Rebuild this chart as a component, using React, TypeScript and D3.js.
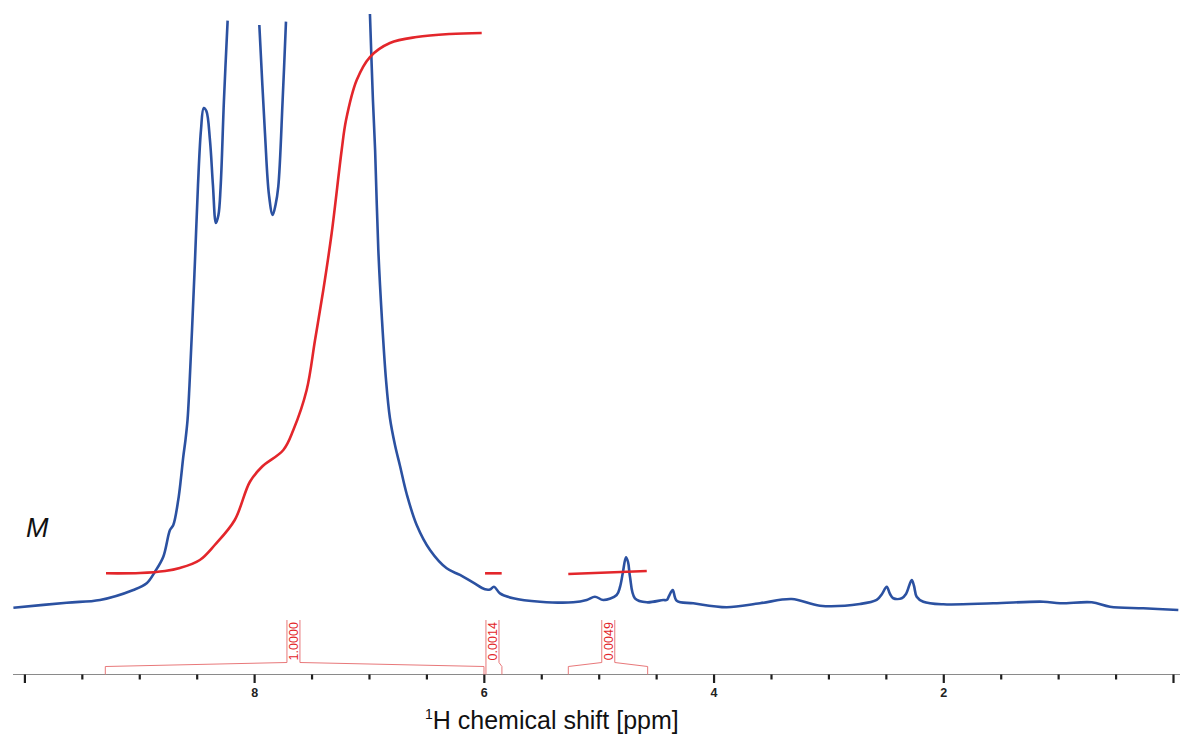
import React from "react";
import * as d3 from "d3";

// ---- data ----
// 1H spectrum: [ppm, relative intensity]; null = off scale (clipped at top)
const spectrum: [number, number | null][] = [
  [10.1, -0.46], [9.636, 0.39], [9.346, 0.85], [9.056, 2.54], [8.94, 3.68],
  [8.868, 5.64], [8.795, 8.19], [8.737, 12.71], [8.708, 13.56], [8.665, 17.8],
  [8.641, 21.53], [8.621, 25.14], [8.602, 27.97], [8.584, 31.36], [8.567, 37.29],
  [8.545, 46.61], [8.519, 58.47], [8.493, 71.19], [8.467, 80.51], [8.443, 84.24],
  [8.42, 83.73], [8.389, 78.82], [8.363, 71.19],
  [8.337, 64.75], [8.315, 66.1], [8.296, 70.85], [8.267, 85.6], [8.235, 99.04],
  [8.1, null],
  [7.959, 98.31], [7.91, 80.0], [7.875, 69.5], [7.843, 66.1], [7.818, 67.8],
  [7.794, 70.9], [7.756, 85.6], [7.727, 98.87],
  [7.3, null],
  [6.996, 100.17], [6.97, 85.6], [6.951, 77.12], [6.923, 60.17], [6.891, 48.31],
  [6.856, 38.14], [6.822, 31.69], [6.778, 27.12], [6.734, 23.56], [6.676, 18.81],
  [6.589, 13.56], [6.473, 9.32], [6.328, 6.22], [6.212, 5.09], [6.096, 3.78], [5.994, 2.66],
  [5.951, 2.63], [5.916, 3.1], [5.864, 1.98], [5.748, 1.14], [5.515, 0.56],
  [5.226, 0.46], [5.109, 0.85], [5.037, 1.41], [4.964, 0.85], [4.848, 1.7],
  [4.819, 3.05], [4.795, 5.37], [4.767, 8.09], [4.749, 7.29], [4.732, 4.8],
  [4.689, 1.14], [4.586, 0.46], [4.442, 0.85], [4.412, 0.85], [4.392, 1.53],
  [4.36, 2.54], [4.325, 0.73], [4.181, 0.29], [3.89, -0.39], [3.6, 0.29],
  [3.324, 1.02], [3.078, -0.12], [2.73, 0.17], [2.584, 0.85], [2.538, 1.86],
  [2.497, 3.1], [2.468, 1.86], [2.44, 1.14], [2.366, 1.14], [2.329, 1.86],
  [2.279, 4.24], [2.259, 3.22], [2.236, 1.41], [2.178, 0.56], [2.004, 0.12],
  [1.569, 0.29], [1.134, 0.56], [0.988, 0.29], [0.712, 0.46], [0.553, -0.29],
  [0.263, -0.56], [-0.042, -0.85],
];

// integral curves (same intensity units)
const integralCurve1: [number, number][] = [
  [9.294, 5.37], [8.998, 5.42], [8.78, 5.76], [8.651, 6.27], [8.477, 7.63],
  [8.347, 10.17], [8.173, 14.41], [8.042, 20.85], [7.938, 23.39], [7.75, 26.27],
  [7.663, 29.66], [7.547, 36.44], [7.474, 44.92], [7.402, 53.39], [7.329, 63.05],
  [7.242, 77.12], [7.204, 82.2], [7.111, 88.98], [6.996, 92.88], [6.822, 95.25],
  [6.589, 96.27], [6.299, 96.78], [6.023, 96.95],
];
const integralCurve2: [number, number][] = [[5.994, 5.37], [5.849, 5.37]];
const integralCurve3: [number, number][] = [[5.269, 5.25], [4.586, 5.76]];

// integral brackets: range and label
const integralFrom = [9.3, 5.986, 5.269];
const integralTo = [6.003, 5.847, 4.578];
const integralLabelAt = [7.662, 5.929, 4.921];
const integralLabels = ["1.0000", "0.0014", "0.0049"];

const majorTicks = [10, 8, 6, 4, 2, 0];
const labeledTicks = [8, 6, 4, 2];
const minorTicks = [9.5, 9, 8.5, 7.5, 7, 6.5, 5.5, 5, 4.5, 3.5, 3, 2.5, 1.5, 1, 0.5];

const W = 1180;
const H = 738;
const BLUE = "#2b51a1";
const RED = "#e3262b";
const FONT = "'Liberation Sans', Arial, Helvetica, sans-serif";

export default function App() {
  const x = d3.scaleLinear().domain([10, 0]).range([24.9, 1173.5]);
  const y = d3.scaleLinear().domain([0, 100]).range([605, 15]);

  const specLine = d3
    .line<[number, number | null]>()
    .defined((d) => d[1] !== null)
    .x((d) => x(d[0]))
    .y((d) => y(d[1] as number))
    .curve(d3.curveCatmullRom.alpha(0.5));

  const intLine = d3
    .line<[number, number]>()
    .x((d) => x(d[0]))
    .y((d) => y(d[1]))
    .curve(d3.curveCatmullRom.alpha(0.5));

  const axisY = 674.5;
  const footTop = 666.5;
  const boxBase = 662.5;
  const boxTop = 620;
  const halfBox = 6.5;

  const brackets = integralLabels.map((lab, i) => {
    const x0 = x(integralFrom[i]);
    const x1 = x(integralTo[i]);
    const xc = x(integralLabelAt[i]);
    let bl = xc - halfBox;
    const br = xc + halfBox;
    let d: string;
    if (bl <= x0 + 1) {
      bl = x0;
      d = `M${x0},${axisY}V${boxTop} M${br},${boxTop}V${boxBase}L${x1},${footTop}V${axisY}`;
    } else {
      d = `M${x0},${axisY}V${footTop}L${bl},${boxBase}V${boxTop} M${br},${boxTop}V${boxBase}L${x1},${footTop}V${axisY}`;
    }
    return { d, tx: (bl + br) / 2 + 4.5, ty: (boxTop + boxBase) / 2, lab };
  });

  return (
    <div style={{ position: "absolute", left: 0, top: 0 }}>
      <svg width={W} height={H} style={{ display: "block", background: "#fff" }}>
        {/* axis line */}
        <line x1={13} x2={1180} y1={axisY} y2={axisY} stroke="#8a8a8a" strokeWidth={1.2} />
        {majorTicks.map((t) => (
          <line key={"M" + t} x1={x(t)} x2={x(t)} y1={axisY} y2={axisY + 8.5} stroke="#1e1e1e" strokeWidth={2.2} />
        ))}
        {minorTicks.map((t) => (
          <line key={"m" + t} x1={x(t)} x2={x(t)} y1={axisY} y2={axisY + 5} stroke="#1e1e1e" strokeWidth={2.2} />
        ))}
        {labeledTicks.map((t) => (
          <text key={"l" + t} x={x(t)} y={697} textAnchor="middle" fontFamily={FONT} fontSize={12.5} fontWeight="bold" fill="#222">
            {t}
          </text>
        ))}
        <text x={425} y={729} fontFamily={FONT} fontSize={25} fill="#111">
          <tspan fontSize={14} dy={-10}>1</tspan>
          <tspan dy={10}>H chemical shift [ppm]</tspan>
        </text>

        {/* integral brackets */}
        {brackets.map((b, i) => (
          <g key={"b" + i}>
            <path d={b.d} fill="none" stroke="#e8787a" strokeWidth={1} />
            <text
              x={b.tx}
              y={b.ty}
              transform={`rotate(-90 ${b.tx} ${b.ty})`}
              textAnchor="middle"
              fontFamily={FONT}
              fontSize={12.5}
              fill={RED}
            >
              {b.lab}
            </text>
          </g>
        ))}

        {/* spectrum */}
        <path d={specLine(spectrum) || ""} fill="none" stroke={BLUE} strokeWidth={2.6} strokeLinejoin="round" />

        {/* integral curves */}
        {[integralCurve1, integralCurve2, integralCurve3].map((c, i) => (
          <path key={"i" + i} d={intLine(c) || ""} fill="none" stroke={RED} strokeWidth={2.6} strokeLinecap="butt" />
        ))}

        <text x={26} y={537} fontFamily={FONT} fontSize={27} fontStyle="italic" fill="#111">
          M
        </text>
      </svg>
    </div>
  );
}
